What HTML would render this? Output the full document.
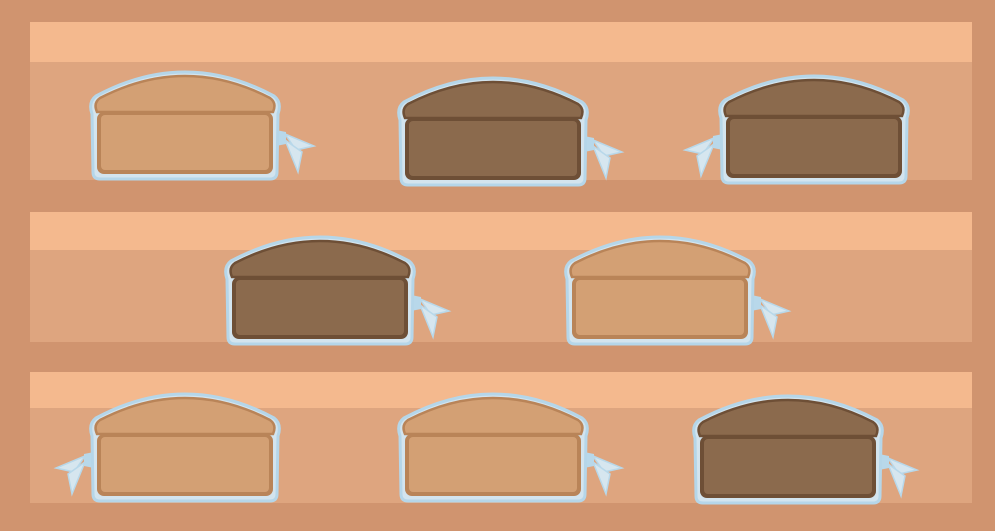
<!DOCTYPE html>
<html><head><meta charset="utf-8"><style>
html,body{margin:0;padding:0;background:#d0946f;}
svg{display:block}
</style></head><body>
<svg width="995" height="531" viewBox="0 0 995 531">
<defs>
  <g id="tie">
    <path d="M186,58 L196,60 L196,72 L186,74 Z" fill="#b8d8ea"/>
    <path d="M195,62 L224,74 L206,78 Z" fill="#d6e6ef" stroke="#b8d8ea" stroke-width="1.5"/>
    <path d="M195,68 L212,80 L208,100 Z" fill="#d6e6ef" stroke="#b8d8ea" stroke-width="1.5"/>
  </g>
  <g id="bag">
    <path d="M6,24 Q95,-24 184,24 Q192,30 188,42 L187,100 Q187,107 180,107 L10,107 Q3,107 3,100 L2,42 Q-2,30 6,24 Z" fill="#d3e4ee" stroke="#b5d6e9" stroke-width="3"/>
  </g>
  <g id="loaf-light">
    <use href="#tie"/>
    <use href="#bag"/>
    <path d="M10,26 Q95,-18 180,26 Q187,31 183,40 L7,40 Q3,31 10,26 Z" fill="#d3a074" stroke="#b98458" stroke-width="2.5"/>
    <rect x="7" y="40" width="176" height="62" rx="7" fill="#b98458"/>
    <rect x="11" y="43" width="168" height="55" rx="4" fill="#d3a074"/>
  </g>
  <g id="loaf-dark">
    <use href="#tie"/>
    <use href="#bag"/>
    <path d="M10,26 Q95,-18 180,26 Q187,31 183,40 L7,40 Q3,31 10,26 Z" fill="#8b6a4d" stroke="#6e4f36" stroke-width="2.5"/>
    <rect x="7" y="40" width="176" height="62" rx="7" fill="#6e4f36"/>
    <rect x="11" y="43" width="168" height="55" rx="4" fill="#8b6a4d"/>
  </g>
</defs>
<rect x="0" y="0" width="995" height="531" fill="#d0946f"/>
<g>
  <rect x="30" y="22" width="942" height="40" fill="#f4b98e"/>
  <rect x="30" y="62" width="942" height="118" fill="#dea57f"/>
</g>
<g>
  <rect x="30" y="212" width="942" height="38" fill="#f4b98e"/>
  <rect x="30" y="250" width="942" height="92" fill="#dea57f"/>
</g>
<g>
  <rect x="30" y="372" width="942" height="36" fill="#f4b98e"/>
  <rect x="30" y="408" width="942" height="95" fill="#dea57f"/>
</g>
<use href="#loaf-light" transform="translate(90,72)"/>
<use href="#loaf-dark" transform="translate(398,78)"/>
<use href="#loaf-dark" transform="translate(909,76) scale(-1,1)"/>
<use href="#loaf-dark" transform="translate(225,237)"/>
<use href="#loaf-light" transform="translate(565,237)"/>
<use href="#loaf-light" transform="translate(280,394) scale(-1,1)"/>
<use href="#loaf-light" transform="translate(398,394)"/>
<use href="#loaf-dark" transform="translate(693,396)"/>
</svg>
</body></html>
